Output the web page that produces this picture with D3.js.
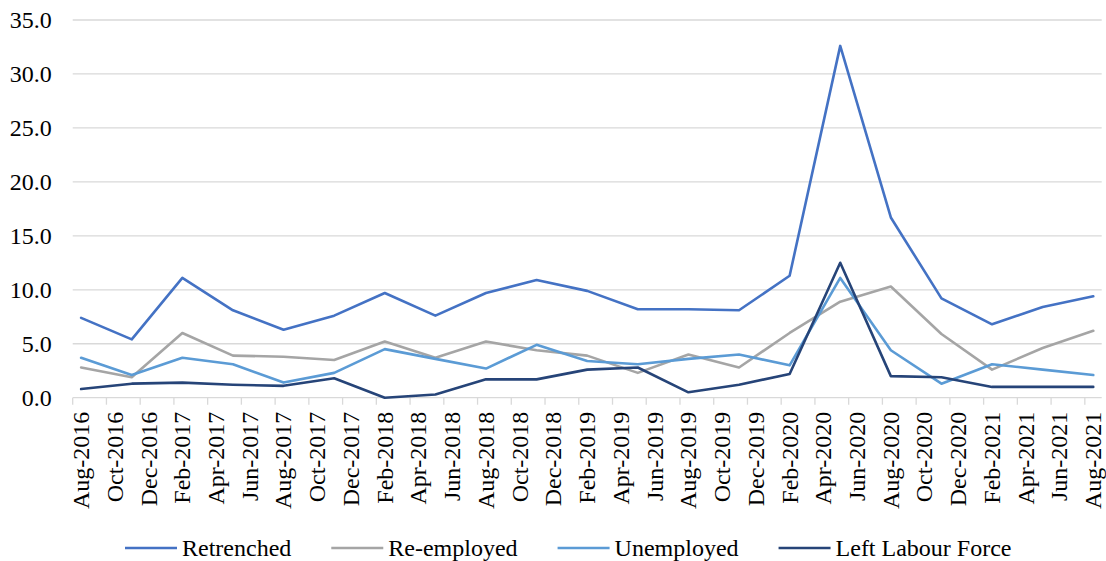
<!DOCTYPE html>
<html>
<head>
<meta charset="utf-8">
<script src="https://cdn.jsdelivr.net/npm/d3@7"></script>
<style>
  html, body { margin: 0; padding: 0; background: #fff; }
  svg { display: block; font-family: "Liberation Serif", "Times New Roman", serif; }
</style>
</head>
<body>
<svg id="chart" width="1106" height="561"></svg>
<script>
// Quarterly observations, Aug-2016 to Aug-2021
const quarters = [
  "2016-08", "2016-11", "2017-02", "2017-05", "2017-08", "2017-11",
  "2018-02", "2018-05", "2018-08", "2018-11", "2019-02", "2019-05",
  "2019-08", "2019-11", "2020-02", "2020-05", "2020-08", "2020-11",
  "2021-02", "2021-05", "2021-08"
];
const retrenched   = [7.4, 5.4, 11.1, 8.1, 6.3, 7.6, 9.7, 7.6, 9.7, 10.9, 9.9, 8.2, 8.2, 8.1, 11.3, 32.6, 16.7, 9.2, 6.8, 8.4, 9.4];
const reEmployed   = [2.8, 1.9, 6.0, 3.9, 3.8, 3.5, 5.2, 3.7, 5.2, 4.4, 3.9, 2.3, 4.0, 2.8, 6.0, 8.9, 10.3, 5.9, 2.6, 4.6, 6.2];
const unemployed   = [3.7, 2.1, 3.7, 3.1, 1.4, 2.3, 4.5, 3.6, 2.7, 4.9, 3.4, 3.1, 3.6, 4.0, 3.0, 11.1, 4.4, 1.3, 3.1, 2.6, 2.1];
const leftLabour   = [0.8, 1.3, 1.4, 1.2, 1.1, 1.8, 0.0, 0.3, 1.7, 1.7, 2.6, 2.8, 0.5, 1.2, 2.2, 12.5, 2.0, 1.9, 1.0, 1.0, 1.0];

const seriesNames  = ["Retrenched", "Re-employed", "Unemployed", "Left Labour Force"];
const seriesColors = ["#4472C4", "#A5A5A5", "#5B9BD5", "#264478"];
const seriesValues = [retrenched, reEmployed, unemployed, leftLabour];

const yTicks = [0, 5, 10, 15, 20, 25, 30, 35];
const monthNames = ["Jan","Feb","Mar","Apr","May","Jun","Jul","Aug","Sep","Oct","Nov","Dec"];

// Monthly slots on the date axis, Aug-2016 .. Aug-2021
const months = [];
for (let i = 0; i <= 60; i++) {
  const m = (7 + i) % 12, yr = 2016 + Math.floor((7 + i) / 12);
  months.push(`${yr}-${String(m + 1).padStart(2, "0")}`);
}
const monthLabel = k => {
  const [yr, m] = k.split("-");
  return `${monthNames[+m - 1]}-${yr}`;
};

const FONT = "'Liberation Serif', 'Times New Roman', serif";
const svg = d3.select("#chart");
const plotLeft = 72.7, plotRight = 1101.7, plotTop = 20, plotBottom = 397.7;

const x = d3.scaleBand().domain(months).range([plotLeft, plotRight]).paddingInner(0).paddingOuter(0);
const y = d3.scaleLinear().domain([0, 35]).range([plotBottom, plotTop]);
const cx = k => x(k) + x.bandwidth() / 2;

// Horizontal gridlines
svg.append("g").selectAll("line").data(yTicks.filter(v => v > 0)).join("line")
  .attr("x1", plotLeft).attr("x2", plotRight)
  .attr("y1", d => y(d)).attr("y2", d => y(d))
  .attr("stroke", "#d9d9d9").attr("stroke-width", 1.3);

// Y axis labels
const yAxis = d3.axisLeft(y).tickValues(yTicks).tickFormat(d3.format(".1f")).tickSize(0).tickPadding(21);
svg.append("g").attr("transform", `translate(${plotLeft},0)`).call(yAxis)
  .attr("font-family", FONT)
  .call(g => g.select(".domain").remove())
  .call(g => g.selectAll("text").attr("font-size", 24).attr("fill", "#000").attr("font-family", FONT));

// X axis line and tick marks at slot boundaries every two months
const labelMonths = months.filter((d, i) => i % 2 === 0);
svg.append("line").attr("x1", plotLeft).attr("x2", plotRight).attr("y1", plotBottom).attr("y2", plotBottom)
  .attr("stroke", "#d9d9d9").attr("stroke-width", 1.3);
svg.append("g").selectAll("line").data(labelMonths).join("line")
  .attr("x1", d => x(d)).attr("x2", d => x(d))
  .attr("y1", plotBottom).attr("y2", plotBottom + 7)
  .attr("stroke", "#d9d9d9").attr("stroke-width", 1.3);

// X axis labels, rotated, centred on the month slot
const xAxis = d3.axisBottom(x).tickValues(labelMonths).tickFormat(monthLabel).tickSize(0).tickPadding(0);
svg.append("g").attr("transform", `translate(0,${plotBottom})`).call(xAxis)
  .attr("font-family", FONT)
  .call(g => g.select(".domain").remove())
  .call(g => g.selectAll("text")
    .attr("font-size", 24).attr("fill", "#000")
    .attr("font-family", FONT)
    .attr("text-anchor", "end")
    .attr("transform", "rotate(-90)")
    .attr("x", -14).attr("y", 0).attr("dy", "0.33em"));

// Series lines
const line = d3.line().x((d, i) => cx(quarters[i])).y(d => y(d));
seriesValues.forEach((vals, s) => {
  svg.append("path").datum(vals)
    .attr("d", line)
    .attr("fill", "none")
    .attr("stroke", seriesColors[s])
    .attr("stroke-width", 2.6)
    .attr("stroke-linejoin", "round")
    .attr("stroke-linecap", "round");
});

// Legend
const legend = svg.append("g").attr("font-size", 24).attr("font-family", FONT);
let lx = 125;
const ly = 548;
seriesNames.forEach((name, s) => {
  legend.append("line").attr("x1", lx).attr("x2", lx + 52).attr("y1", ly).attr("y2", ly)
    .attr("stroke", seriesColors[s]).attr("stroke-width", 2.6);
  const t = legend.append("text").attr("x", lx + 57).attr("y", ly).attr("dy", "0.33em")
    .attr("fill", "#000").text(name);
  lx += 57 + t.node().getComputedTextLength() + 40;
});
</script>
</body>
</html>
